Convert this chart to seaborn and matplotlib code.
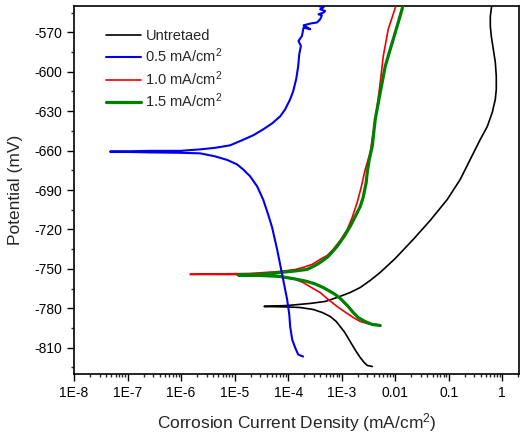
import numpy as np
import pandas as pd
import seaborn as sns
import matplotlib
matplotlib.use('Agg')
import matplotlib.pyplot as plt
from matplotlib.ticker import LogLocator, FixedLocator, MultipleLocator, FuncFormatter

# ===================
# Data: Tafel curves
# each curve goes cathodic end -> Ecorr -> anodic end

untreated_i = [3.72e-3, 3.0e-3, 2.64e-3, 2.22e-3, 1.87e-3, 1.64e-3, 1.44e-3, 1.27e-3, 1.11e-3,
               9.38e-4, 7.89e-4, 6.09e-4, 4.32e-4, 2.94e-4, 1.67e-4, 9.57e-5, 3.56e-5,
               9.57e-5, 2.58e-4, 4.92e-4, 8.2e-4, 1.44e-3, 2.22e-3, 3.41e-3, 5.25e-3, 1.0e-2,
               2.17e-2, 4.51e-2, 9.38e-2, 0.164, 0.252, 0.388, 0.525, 0.65, 0.74, 0.772,
               0.772, 0.74, 0.679, 0.623, 0.597, 0.597, 0.65]
untreated_e = [-824.3, -823.5, -821.3, -817.5, -812.9, -809.1, -805.3, -801.5, -797.7,
               -793.9, -790.0, -786.2, -783.2, -780.9, -779.4, -779.0, -778.6,
               -777.9, -776.3, -774.8, -771.8, -768.0, -764.2, -758.8, -752.7, -742.1,
               -727.6, -713.1, -697.2, -681.9, -666.7, -651.5, -641.6, -630.9, -621.0, -613.4,
               -603.5, -592.8, -582.9, -573.0, -565.4, -557.8, -546.4]

c05_i = [1.90e-4, 1.54e-4, 1.35e-4, 1.19e-4, 1.09e-4, 1.05e-4, 9.57e-5, 8.07e-5, 7.08e-5,
         6.22e-5, 5.02e-5, 4.23e-5, 3.41e-5, 2.64e-5, 1.95e-5, 1.44e-5, 1.11e-5, 7.24e-6,
         4.32e-6, 2.26e-6, 9.57e-7, 2.64e-7, 4.71e-8,
         2.64e-7, 9.57e-7, 2.26e-6, 4.32e-6, 8.24e-6, 1.44e-5, 2.22e-5, 3.41e-5, 5.02e-5,
         7.08e-5, 8.79e-5, 1.09e-4, 1.24e-4, 1.41e-4, 1.54e-4, 1.61e-4, 1.73e-4, 1.56e-4,
         1.81e-4, 1.94e-4, 2.58e-4, 1.94e-4, 2.77e-4, 3.44e-4, 3.96e-4, 4.27e-4, 3.68e-4,
         4.57e-4, 4.9e-4, 3.96e-4, 4.6e-4, 3.68e-4, 3.96e-4]
c05_e = [-816.7, -815.2, -809.9, -803.8, -793.9, -784.8, -773.3, -758.1, -746.6,
         -735.2, -718.5, -708.6, -697.2, -687.3, -679.6, -674.3, -670.5, -667.1,
         -664.4, -662.1, -661.7, -661.4, -660.8,
         -660.2, -660.2, -659.1, -657.9, -656.0, -651.8, -648.4, -643.9, -639.3,
         -634.0, -628.6, -621.0, -614.9, -605.8, -595.9, -586.8, -580.4, -576.6,
         -572.8, -566.4, -567.7, -564.7, -563.1, -562.6, -560.1, -557.1, -556.3,
         -555.0, -553.8, -552.5, -551.0, -550.0, -548.7]

c10_i = [4.61e-3, 3.0e-3, 2.22e-3, 1.64e-3, 1.27e-3, 8.2e-4, 5.60e-4, 3.96e-4, 2.94e-4,
         1.90e-4, 1.24e-4, 7.08e-5, 1.95e-5, 1.47e-6,
         1.95e-5, 7.08e-5, 1.35e-4, 1.90e-4, 2.81e-4, 3.96e-4, 5.36e-4, 6.93e-4, 9.38e-4,
         1.27e-3, 1.57e-3, 1.95e-3, 2.31e-3, 2.75e-3, 3.13e-3, 3.41e-3, 3.88e-3, 4.61e-3,
         5.25e-3, 5.97e-3, 7.40e-3, 1.04e-2, 1.14e-2]
c10_e = [-792.3, -791.6, -790.0, -787.0, -784.0, -778.6, -773.3, -768.0, -765.0,
         -760.4, -757.3, -755.6, -754.4, -754.2,
         -753.5, -752.0, -750.5, -748.9, -746.6, -742.8, -739.8, -735.2, -728.4,
         -720.0, -710.9, -699.4, -688.0, -674.3, -666.7, -661.4, -646.1, -626.3,
         -608.1, -588.3, -567.7, -549.4, -545.6]

c15_i = [5.25e-3, 3.72e-3, 3.0e-3, 2.52e-3, 2.03e-3, 1.64e-3, 1.32e-3, 1.07e-3, 9.38e-4,
         7.57e-4, 6.09e-4, 4.51e-4, 3.20e-4, 2.26e-4, 1.35e-4, 7.08e-5, 3.0e-5, 1.16e-5,
         3.0e-5, 7.08e-5, 1.35e-4, 2.26e-4, 3.20e-4, 3.96e-4, 5.60e-4, 8.2e-4, 1.11e-3,
         1.44e-3, 1.87e-3, 2.22e-3, 2.52e-3, 2.87e-3, 3.0e-3, 3.27e-3, 3.72e-3, 4.23e-3,
         5.25e-3, 6.50e-3, 8.07e-3, 9.18e-3, 1.14e-2, 1.41e-2, 1.54e-2]
c15_e = [-793.1, -792.3, -790.8, -789.3, -787.0, -783.2, -778.6, -774.8, -772.5,
         -769.5, -767.2, -764.2, -761.5, -759.6, -757.7, -755.8, -755.0, -754.6,
         -754.2, -752.7, -751.6, -750.4, -747.4, -745.1, -740.6, -732.9, -725.3,
         -717.7, -708.6, -702.5, -695.6, -684.2, -676.6, -666.7, -656.8, -636.2,
         -615.7, -595.9, -582.9, -575.3, -562.4, -549.4, -545.6]

series_names = ['Untretaed', '0.5 mA/cm$^2$', '1.0 mA/cm$^2$', '1.5 mA/cm$^2$']
series_i = [untreated_i, c05_i, c10_i, c15_i]
series_e = [untreated_e, c05_e, c10_e, c15_e]

colors = ['black', '#0000ee', '#ee0000', '#008000']
widths = [1.2, 1.5, 1.2, 2.3]
zorders = [2, 5, 3, 4]

# ===================
# plot

sns.set_style('ticks')
plt.rcParams['font.family'] = ['Liberation Sans', 'DejaVu Sans']
plt.rcParams['mathtext.fontset'] = 'custom'
plt.rcParams['mathtext.rm'] = 'Liberation Sans'
plt.rcParams['mathtext.it'] = 'Liberation Sans:italic'
plt.rcParams['axes.unicode_minus'] = False

fig = plt.figure(figsize=(5.22, 4.34), dpi=100)
ax = fig.add_axes([74 / 522, 1 - 374 / 434, 445 / 522, 368 / 434])

for name, xi, ye, col, lw, zo in zip(series_names, series_i, series_e, colors, widths, zorders):
    df = pd.DataFrame({'i': xi, 'E': ye})
    sns.lineplot(data=df, x='i', y='E', sort=False, estimator=None, color=col,
                 linewidth=lw, label=name, ax=ax, zorder=zo)

ax.set_xscale('log')
ax.set_xlim(1e-8, 2.05)
ax.set_ylim(-830, -550)

# tick labels in Origin style
def xlabel_fmt(v, pos):
    exp = int(round(np.log10(v)))
    if exp <= -3:
        return '1E%d' % exp
    return {-2: '0.01', -1: '0.1', 0: '1'}[exp]

ax.xaxis.set_major_locator(FixedLocator([10.0 ** k for k in range(-8, 1)]))
ax.xaxis.set_major_formatter(FuncFormatter(xlabel_fmt))
ax.xaxis.set_minor_locator(LogLocator(base=10, subs=np.arange(2, 10), numticks=20))
ax.xaxis.set_minor_formatter(FuncFormatter(lambda v, p: ''))
ax.yaxis.set_major_locator(MultipleLocator(30))
ax.yaxis.set_minor_locator(MultipleLocator(15))
ax.set_yticks(np.arange(-810, -550, 30))

ax.tick_params(which='major', direction='out', length=5, width=1, labelsize=10, colors='black')
ax.tick_params(which='minor', direction='out', length=2.5, width=1)
for sp in ax.spines.values():
    sp.set_visible(True)
    sp.set_linewidth(1.2)
    sp.set_color('black')

ax.set_xlabel('Corrosion Current Density (mA/cm$^2$)', fontsize=12.5, labelpad=8)
ax.set_ylabel('Potential (mV)', fontsize=12.5, labelpad=8)

leg = ax.legend(loc='upper left', bbox_to_anchor=(0.072, 0.937), frameon=False, fontsize=10.5,
                borderpad=0, borderaxespad=0, handlelength=2.4, handletextpad=0.3,
                labelspacing=0.25)

plt.savefig('out.png', dpi=100)
plt.close()
